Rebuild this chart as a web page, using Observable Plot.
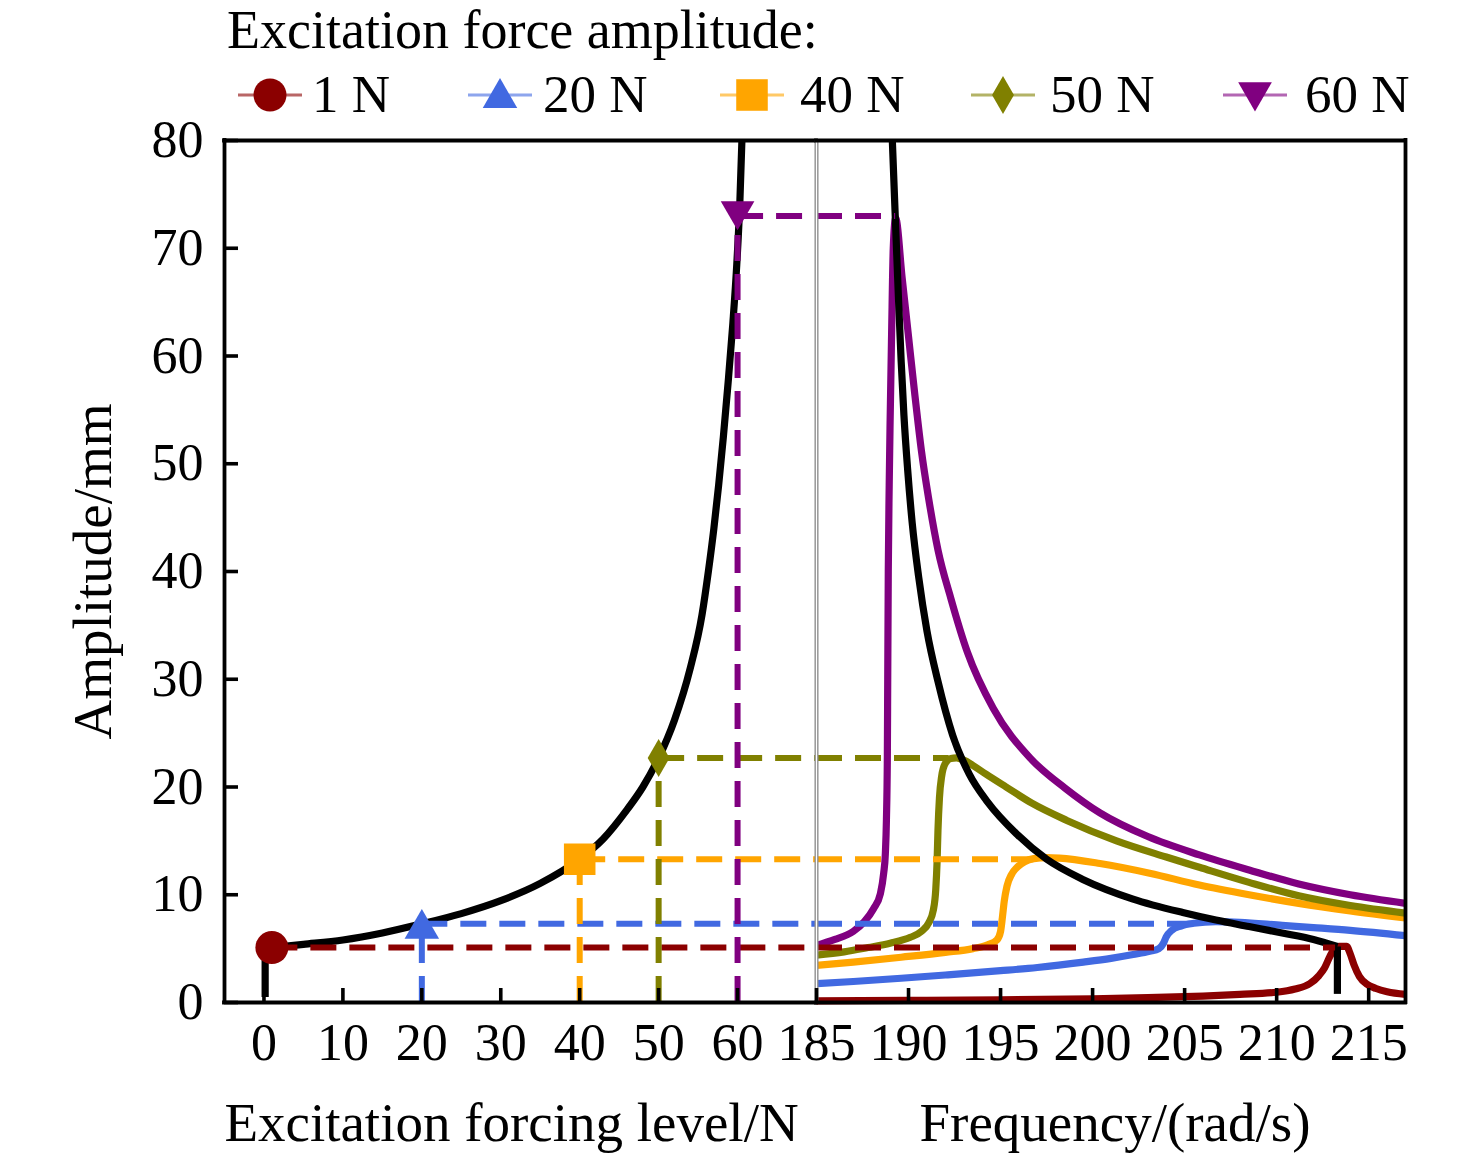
<!DOCTYPE html>
<html>
<head>
<meta charset="utf-8">
<script src="https://cdn.jsdelivr.net/npm/d3@7"></script>
<script src="https://cdn.jsdelivr.net/npm/@observablehq/plot@0.6"></script>
<style>
  body { margin: 0; background: #fff; }
  #wrap { position: relative; width: 1476px; height: 1157px; background: #fff; }
  #wrap > * { position: absolute; }
</style>
</head>
<body>
<div id="wrap"></div>
<script>
const FONT = '"Liberation Serif", "Times New Roman", Times, serif';

// ---- data ----
const legendTitle = "Excitation force amplitude:";
const seriesNames = ["1 N", "20 N", "40 N", "50 N", "60 N"];
const seriesColors = ["#8B0000", "#4169E1", "#FFA500", "#808000", "#800080"];
const forceLevels = [1, 20, 40, 50, 60];
const peakAmplitudes = [5.1, 7.3, 13.3, 22.7, 73.0];
const peakFrequencies = [213.2, 206.0, 196.8, 192.2, 189.3];

const xTicksForce = [0, 10, 20, 30, 40, 50, 60];
const xTicksFreq = [185, 190, 195, 200, 205, 210, 215];
const yTicks = [0, 10, 20, 30, 40, 50, 60, 70, 80];

// backbone: amplitude vs excitation force level [N, mm]
const backboneForceStart = [[0.15, 0.5], [0.15, 5.0], [1, 5.1]];
const backboneForce = [
  [1, 5.1], [5, 5.4], [10, 5.8], [15, 6.45], [20, 7.3], [25, 8.25], [30, 9.45], [35, 11.05],
  [40, 13.3], [43, 15.2], [46, 17.9], [48, 20.0], [50, 22.7], [52, 26.2], [54, 31.0],
  [55.5, 36.0], [56.3, 40.0], [57.0, 44.0], [57.6, 48.0], [58.2, 52.5], [58.8, 57.5],
  [59.4, 63.0], [59.9, 68.5], [60.3, 74.5], [60.55, 80]
];

// backbone: amplitude vs frequency [rad/s, mm]
const backboneFreq = [
  [189.12, 80], [189.28, 72.9], [189.45, 65.5], [189.6, 59.5], [189.75, 54.5], [189.95, 49.5],
  [190.2, 44.5], [190.55, 39.5], [191.0, 34.5], [191.6, 29.8], [192.4, 24.8], [193.3, 21.2],
  [194.3, 18.6], [195.9, 15.6], [197.5, 13.3], [199.5, 11.4], [202.2, 9.6], [204.9, 8.35],
  [206.7, 7.65], [208.5, 7.05], [210.3, 6.45], [212, 5.85], [213.3, 5.2]
];
const backboneFreqEnd = [[213.3, 5.2], [213.3, 0.8]];

// frequency response curves [rad/s, mm]
const response1N = [
  [185, 0.15], [190, 0.2], [195, 0.25], [200, 0.35], [203, 0.45], [206, 0.6], [208, 0.75],
  [210, 0.95], [211, 1.25], [211.8, 1.75], [212.3, 2.5], [212.6, 3.2], [212.9, 4.3],
  [213.1, 4.9], [213.4, 5.2], [213.8, 5.2], [214.0, 4.5], [214.2, 3.5], [214.5, 2.4],
  [214.9, 1.7], [215.4, 1.3], [216, 1.0], [217, 0.75]
];
const response20N = [
  [185, 1.75], [187, 1.95], [189.6, 2.25], [192, 2.55], [195, 2.95], [197, 3.25], [199.5, 3.75],
  [201, 4.1], [202.2, 4.45], [203.1, 4.75], [203.6, 5.0], [203.85, 5.5], [204, 6.1],
  [204.3, 6.7], [204.8, 7.1], [205.5, 7.35], [206.7, 7.5], [208, 7.45], [210.3, 7.15],
  [212, 6.95], [214, 6.7], [217, 6.2]
];
const response40N = [
  [185, 3.45], [187, 3.75], [189.6, 4.2], [192, 4.65], [193.5, 5.0], [194.3, 5.35],
  [194.8, 5.8], [195.0, 6.6], [195.1, 7.9], [195.2, 9.4], [195.35, 10.8], [195.6, 11.9],
  [195.9, 12.55], [196.3, 13.05], [196.8, 13.35], [197.5, 13.45], [198.2, 13.4], [200.4, 12.9],
  [203.1, 12.0], [205.8, 10.9], [208.5, 10.0], [211.2, 9.2], [214, 8.5], [217, 7.85]
];
const response50N = [
  [185, 4.4], [186.5, 4.7], [187.8, 5.1], [189, 5.5], [190.1, 6.05], [190.7, 6.6], [191.1, 7.4],
  [191.35, 8.6], [191.48, 10.5], [191.55, 13], [191.6, 16], [191.68, 19], [191.8, 21],
  [192.0, 22.2], [192.3, 22.65], [192.6, 22.7], [193.0, 22.5], [193.5, 22.0], [194.2, 21.2],
  [195.3, 20.0], [196.7, 18.5], [198.6, 16.9], [201.3, 15.0], [204, 13.5], [205.8, 12.55],
  [208.5, 11.15], [211.2, 9.9], [214, 9.0], [217, 8.3]
];
const response60N = [
  [185, 5.3], [186, 5.85], [187, 6.6], [187.6, 7.5], [188.1, 8.7], [188.47, 10.1],
  [188.65, 12], [188.74, 13.8], [188.8, 17], [188.85, 23], [188.87, 30], [188.9, 40],
  [188.95, 48], [189.0, 54], [189.08, 62], [189.17, 70], [189.3, 72.8], [189.65, 67.3],
  [190.0, 61.8], [190.35, 56.3], [190.7, 51.2], [191.1, 46.7], [191.6, 42.0], [192.3, 37.5],
  [193.2, 32.5], [194.6, 27.3], [196.6, 22.7], [198.5, 19.9], [200.4, 17.6], [203, 15.4],
  [205.8, 13.7], [208.5, 12.3], [211.2, 11.0], [214, 10.0], [217, 9.2]
];
const responses = [response1N, response20N, response40N, response50N, response60N];

// ---- symbols ----
const sqrt3 = Math.sqrt(3);
const symbolTriangleDown = {
  draw(context, size) {
    const y = Math.sqrt(size / (sqrt3 * 3));
    context.moveTo(0, 2 * y);
    context.lineTo(-sqrt3 * y, -y);
    context.lineTo(sqrt3 * y, -y);
    context.closePath();
  }
};
const markerSymbols = ["circle", "triangle", "square", "diamond", symbolTriangleDown];
const d3Symbols = [d3.symbolCircle, d3.symbolTriangle, d3.symbolSquare, d3.symbolDiamond, symbolTriangleDown];
const markerR = [16.5, 12.8, 17.8, 11.5, 12.5];
const markerDy = [0, 5, 0, 0, -5];

const rows = seriesNames.map((name, i) => ({
  name, color: seriesColors[i], force: forceLevels[i], amp: peakAmplitudes[i], freq: peakFrequencies[i]
}));

const DASH = "26,13";
const LW = 7.2;
const DW = 6;

// ---- legend (title + entries) ----
const wrap = document.getElementById("wrap");
const leg = d3.create("svg").attr("width", 1476).attr("height", 125)
  .style("left", "0px").style("top", "0px").style("font-family", FONT).style("overflow", "visible");
leg.append("text").attr("x", 227).attr("y", 48).attr("font-size", 54).text(legendTitle);
const legSymX = [270, 500, 752, 1003, 1255];
const legTextX = [312, 543, 800, 1050, 1305];
rows.forEach((r, i) => {
  const g = leg.append("g").attr("transform", `translate(${legSymX[i]},95)`);
  g.append("line").attr("x1", -32).attr("x2", 32).attr("stroke", r.color)
    .attr("stroke-width", 3).attr("stroke-opacity", 0.6);
  g.append("path").attr("d", d3.symbol().type(d3Symbols[i]).size(Math.PI * markerR[i] * markerR[i])())
    .attr("fill", r.color).attr("transform", `translate(0,${markerDy[i] * 0.6})`);
  leg.append("text").attr("x", legTextX[i]).attr("y", 112).attr("font-size", 53).text(r.name);
});
wrap.appendChild(leg.node());

// ---- common ----
const TOP = 125, H = 1157 - TOP, MT = 140 - TOP, MB = 1157 - 1002;
const style = { fontFamily: FONT, fontSize: "52px", color: "black", background: "transparent", overflow: "visible" };
const frameRule = { stroke: "black", strokeWidth: 3.8, strokeLinecap: "square" };
const axisOpts = { tickSize: -14, tickPadding: 35, strokeWidth: 3.6, fontSize: 52, label: null };
const lineOpts = { x: d => d[0], y: d => d[1], strokeWidth: LW, strokeLinejoin: "round", strokeLinecap: "butt" };

// ---- left panel: amplitude vs forcing level ----
const leftMarks = [
  Plot.line(backboneForceStart, { ...lineOpts, stroke: "black" }),
  Plot.line(backboneForce, { ...lineOpts, stroke: "black", curve: "monotone-x" }),
  Plot.ruleY(rows, { y: "amp", x1: "force", x2: 70, stroke: "color", strokeWidth: DW, strokeDasharray: DASH }),
  Plot.ruleX(rows.filter(d => d.force > 1), { x: "force", y1: 0, y2: "amp", stroke: "color", strokeWidth: DW, strokeDasharray: DASH })
];
rows.forEach((r, i) => {
  leftMarks.push(Plot.dot([r], { x: "force", y: "amp", symbol: () => markerSymbols[i], r: markerR[i], fill: "color", stroke: "none", dy: markerDy[i] }));
});
leftMarks.push(
  Plot.ruleY([0, 80], frameRule),
  Plot.ruleX([-5], frameRule),
  Plot.axisX({ ...axisOpts, ticks: xTicksForce }),
  Plot.axisY({ ...axisOpts, ticks: yTicks }),
  Plot.text(["Excitation forcing level/N"], { frameAnchor: "bottom", dy: 138, dx: -9, lineAnchor: "bottom", fontSize: 55 }),
  Plot.text(["Amplitude/mm"], { frameAnchor: "left", rotate: -90, dx: -153, lineAnchor: "top", textAnchor: "middle", fontSize: 55 })
);

const left = Plot.plot({
  width: 816, height: H,
  marginLeft: 224, marginRight: 0, marginTop: MT, marginBottom: MB,
  style,
  x: { domain: [-5, 70] },
  y: { domain: [0, 80] },
  color: { type: "identity" },
  symbol: { type: "identity" },
  marks: leftMarks
});
left.style.left = "0px"; left.style.top = TOP + "px";
wrap.appendChild(left);

// ---- right panel: amplitude vs frequency ----
const rightMarks = [];
responses.forEach((resp, i) => {
  rightMarks.push(Plot.line(resp, { ...lineOpts, stroke: seriesColors[i], curve: "monotone-x" }));
});
rightMarks.push(
  Plot.line(backboneFreq, { ...lineOpts, stroke: "black", curve: "monotone-x" }),
  Plot.line(backboneFreqEnd, { ...lineOpts, stroke: "black" }),
  Plot.ruleY(rows, { y: "amp", x1: 185, x2: "freq", stroke: "color", strokeWidth: DW, strokeDasharray: DASH }),
  Plot.ruleX([185], { stroke: "#8c8c8c", strokeWidth: 4 }),
  Plot.ruleX([185], { stroke: "white", strokeWidth: 1.3 }),
  Plot.ruleY([0, 80], frameRule),
  Plot.ruleX([217], frameRule),
  Plot.axisX({ ...axisOpts, ticks: xTicksFreq }),
  Plot.text(["Frequency/(rad/s)"], { frameAnchor: "bottom", dy: 138, dx: 4, lineAnchor: "bottom", fontSize: 55 })
);

const right = Plot.plot({
  width: 660, height: H,
  marginLeft: 0, marginRight: 71, marginTop: MT, marginBottom: MB,
  style,
  x: { domain: [185, 217] },
  y: { domain: [0, 80], axis: null },
  color: { type: "identity" },
  marks: rightMarks
});
right.style.left = "816px"; right.style.top = TOP + "px";
wrap.appendChild(right);
</script>
</body>
</html>
